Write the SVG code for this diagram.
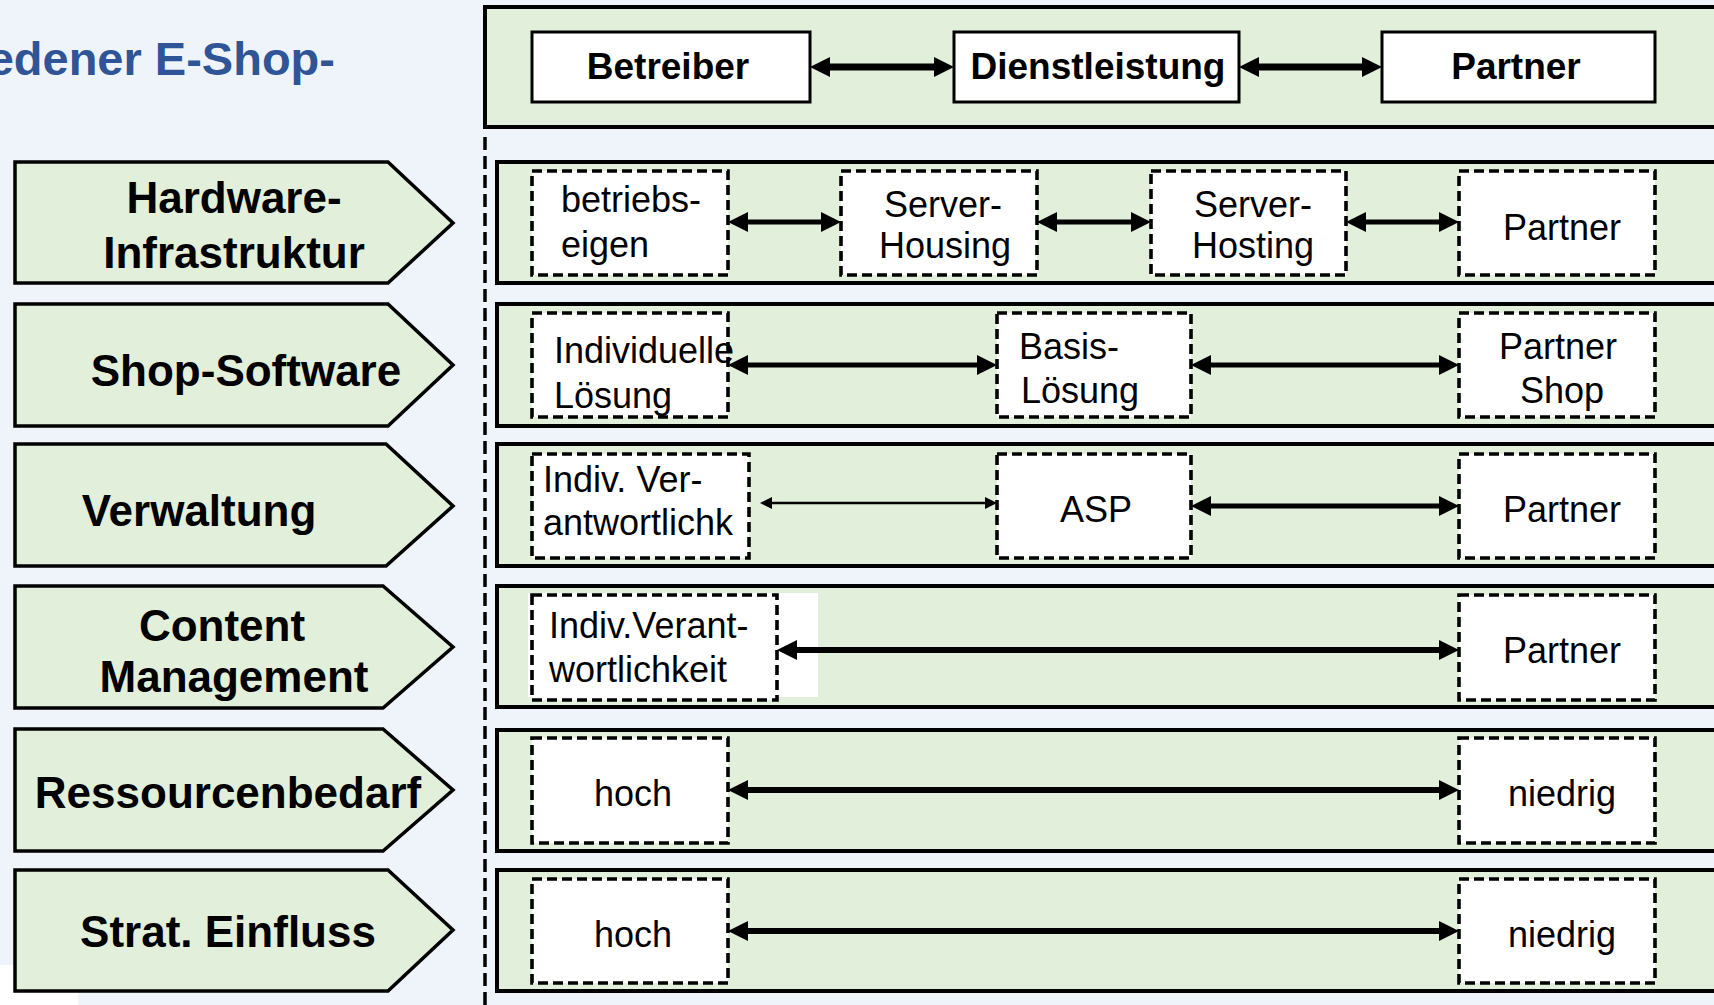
<svg xmlns="http://www.w3.org/2000/svg" width="1714" height="1005" viewBox="0 0 1714 1005">
  <defs>
    <style>
      .bg{fill:#EFF3FA}
      .cat{fill:#E2EFDA;stroke:#000;stroke-width:3.5;stroke-linejoin:miter}
      .band{fill:#E2EFDA;stroke:#000;stroke-width:4}
      .head{fill:#fff;stroke:#000;stroke-width:3}
      .opt{fill:#fff;stroke:#000;stroke-width:3.6;stroke-dasharray:10 5}
      .lbl{font-family:"Liberation Sans",Arial,sans-serif;font-weight:bold;font-size:44px;fill:#000;text-anchor:middle}
      .hd{font-family:"Liberation Sans",Arial,sans-serif;font-weight:bold;font-size:37px;fill:#000;text-anchor:middle}
      .tx{font-family:"Liberation Sans",Arial,sans-serif;font-size:36px;fill:#000}
      .c{text-anchor:middle}
      .title{font-family:"Liberation Sans",Arial,sans-serif;font-weight:bold;font-size:47px;fill:#2F5597;text-anchor:end}
      .link{stroke:#000;fill:none}
      .divider{stroke:#000;stroke-width:3.5;stroke-dasharray:13 6;fill:none}
    </style>
    <marker id="ah" markerUnits="userSpaceOnUse" viewBox="0 0 20 20" markerWidth="20" markerHeight="20" refX="0" refY="10" orient="auto-start-reverse">
      <path d="M0,0 L20,10 L0,20 z" fill="#000"/>
    </marker>
    <marker id="ahs" markerUnits="userSpaceOnUse" viewBox="0 0 12 12" markerWidth="12" markerHeight="12" refX="0" refY="6" orient="auto-start-reverse">
      <path d="M0,0 L12,6 L0,12 z" fill="#000"/>
    </marker>
  </defs>

  <!-- page background -->
  <rect class="bg" x="0" y="0" width="1714" height="1005"/>
  <rect x="0" y="965" width="78" height="40" fill="#fff"/>

  <!-- heading fragment -->
  <text class="title" x="335" y="75">edener E-Shop-</text>

  <!-- vertical separator -->
  <line class="divider" x1="485" y1="137" x2="485" y2="1005"/>

  <!-- category arrows on the left -->
  <g id="cat-hardware">
    <polygon class="cat" points="15,162 388,162 453,223 388,283 15,283"/>
    <text class="lbl" x="234" y="213">Hardware-</text>
    <text class="lbl" x="234" y="268">Infrastruktur</text>
  </g>
  <g id="cat-shop">
    <polygon class="cat" points="15,304 388,304 453,365 388,426 15,426"/>
    <text class="lbl" x="246" y="386">Shop-Software</text>
  </g>
  <g id="cat-verwaltung">
    <polygon class="cat" points="15,444 386,444 453,506 386,566 15,566"/>
    <text class="lbl" x="199" y="526">Verwaltung</text>
  </g>
  <g id="cat-content">
    <polygon class="cat" points="15,586 383,586 453,647 383,708 15,708"/>
    <text class="lbl" x="222" y="641">Content</text>
    <text class="lbl" x="234" y="692">Management</text>
  </g>
  <g id="cat-ressourcen">
    <polygon class="cat" points="15,729 383,729 453,790 383,851 15,851"/>
    <text class="lbl" x="228" y="808">Ressourcenbedarf</text>
  </g>
  <g id="cat-strat">
    <polygon class="cat" points="15,870 388,870 453,930 388,991 15,991"/>
    <text class="lbl" x="228" y="947">Strat. Einfluss</text>
  </g>

  <!-- row bands -->
  <g id="bands">
    <rect class="band" x="485" y="7" width="1240" height="120"/>
    <rect class="band" x="497" y="162" width="1230" height="121"/>
    <rect class="band" x="497" y="304" width="1230" height="122"/>
    <rect class="band" x="497" y="444" width="1230" height="122"/>
    <rect class="band" x="497" y="586" width="1230" height="121"/>
    <rect class="band" x="497" y="730" width="1230" height="121"/>
    <rect class="band" x="497" y="870" width="1230" height="121"/>
  </g>

  <!-- header row -->
  <g id="h-betreiber">
    <rect class="head" x="532" y="32" width="278" height="70"/>
    <text class="hd" x="668" y="79">Betreiber</text>
  </g>
  <g id="h-dienstleistung">
    <rect class="head" x="954" y="32" width="285" height="70"/>
    <text class="hd" x="1098" y="79">Dienstleistung</text>
  </g>
  <g id="h-partner">
    <rect class="head" x="1382" y="32" width="273" height="70"/>
    <text class="hd" x="1516" y="79">Partner</text>
  </g>

  <!-- hardware row -->
  <g id="hw-eigen">
    <rect class="opt" x="532" y="171" width="196" height="104"/>
    <text class="tx" x="561" y="212">betriebs-</text>
    <text class="tx" x="561" y="257">eigen</text>
  </g>
  <g id="hw-housing">
    <rect class="opt" x="841" y="171" width="196" height="104"/>
    <text class="tx c" x="943" y="217">Server-</text>
    <text class="tx c" x="945" y="258">Housing</text>
  </g>
  <g id="hw-hosting">
    <rect class="opt" x="1151" y="171" width="195" height="104"/>
    <text class="tx c" x="1253" y="217">Server-</text>
    <text class="tx c" x="1253" y="258">Hosting</text>
  </g>
  <g id="hw-partner">
    <rect class="opt" x="1459" y="171" width="196" height="104"/>
    <text class="tx c" x="1562" y="240">Partner</text>
  </g>

  <!-- shop software row -->
  <g id="sw-individuell">
    <rect class="opt" x="532" y="313" width="196" height="104"/>
    <text class="tx" x="554" y="363">Individuelle</text>
    <text class="tx" x="554" y="408">Lösung</text>
  </g>
  <g id="sw-basis">
    <rect class="opt" x="997" y="313" width="194" height="104"/>
    <text class="tx" x="1019" y="359">Basis-</text>
    <text class="tx" x="1021" y="403">Lösung</text>
  </g>
  <g id="sw-partner">
    <rect class="opt" x="1459" y="313" width="196" height="104"/>
    <text class="tx c" x="1558" y="359">Partner</text>
    <text class="tx c" x="1562" y="403">Shop</text>
  </g>

  <!-- administration row -->
  <g id="vw-indiv">
    <rect class="opt" x="532" y="454" width="217" height="104"/>
    <text class="tx" x="543" y="492">Indiv. Ver-</text>
    <text class="tx" x="543" y="535">antwortlichk</text>
  </g>
  <g id="vw-asp">
    <rect class="opt" x="997" y="454" width="194" height="104"/>
    <text class="tx c" x="1096" y="522">ASP</text>
  </g>
  <g id="vw-partner">
    <rect class="opt" x="1459" y="454" width="196" height="104"/>
    <text class="tx c" x="1562" y="522">Partner</text>
  </g>

  <!-- content management row -->
  <g id="cm-indiv">
    <rect x="528" y="593" width="290" height="104" fill="#fff"/>
    <rect class="opt" x="532" y="595" width="245" height="105"/>
    <text class="tx" x="549" y="638">Indiv.Verant-</text>
    <text class="tx" x="549" y="682">wortlichkeit</text>
  </g>
  <g id="cm-partner">
    <rect class="opt" x="1459" y="595" width="196" height="105"/>
    <text class="tx c" x="1562" y="663">Partner</text>
  </g>

  <!-- resource demand row -->
  <g id="rb-hoch">
    <rect class="opt" x="532" y="738" width="196" height="105"/>
    <text class="tx c" x="633" y="806">hoch</text>
  </g>
  <g id="rb-niedrig">
    <rect class="opt" x="1459" y="738" width="196" height="105"/>
    <text class="tx c" x="1562" y="806">niedrig</text>
  </g>

  <!-- strategic influence row -->
  <g id="si-hoch">
    <rect class="opt" x="532" y="879" width="196" height="104"/>
    <text class="tx c" x="633" y="947">hoch</text>
  </g>
  <g id="si-niedrig">
    <rect class="opt" x="1459" y="879" width="196" height="104"/>
    <text class="tx c" x="1562" y="947">niedrig</text>
  </g>

  <!-- connectors -->
  <g id="connectors" class="link">
    <line x1="830" y1="67" x2="934" y2="67" stroke-width="7" marker-start="url(#ah)" marker-end="url(#ah)"/>
    <line x1="1259" y1="67" x2="1362" y2="67" stroke-width="7" marker-start="url(#ah)" marker-end="url(#ah)"/>

    <line x1="748" y1="222" x2="821" y2="222" stroke-width="5" marker-start="url(#ah)" marker-end="url(#ah)"/>
    <line x1="1057" y1="222" x2="1131" y2="222" stroke-width="5" marker-start="url(#ah)" marker-end="url(#ah)"/>
    <line x1="1366" y1="222" x2="1439" y2="222" stroke-width="5" marker-start="url(#ah)" marker-end="url(#ah)"/>

    <line x1="748" y1="365" x2="977" y2="365" stroke-width="5" marker-start="url(#ah)" marker-end="url(#ah)"/>
    <line x1="1211" y1="365" x2="1439" y2="365" stroke-width="5" marker-start="url(#ah)" marker-end="url(#ah)"/>

    <line x1="772" y1="503" x2="985" y2="503" stroke-width="2.5" marker-start="url(#ahs)" marker-end="url(#ahs)"/>
    <line x1="1211" y1="506" x2="1439" y2="506" stroke-width="5" marker-start="url(#ah)" marker-end="url(#ah)"/>

    <line x1="797" y1="650" x2="1439" y2="650" stroke-width="6" marker-start="url(#ah)" marker-end="url(#ah)"/>
    <line x1="748" y1="790" x2="1439" y2="790" stroke-width="6" marker-start="url(#ah)" marker-end="url(#ah)"/>
    <line x1="748" y1="931" x2="1439" y2="931" stroke-width="6" marker-start="url(#ah)" marker-end="url(#ah)"/>
  </g>
</svg>
